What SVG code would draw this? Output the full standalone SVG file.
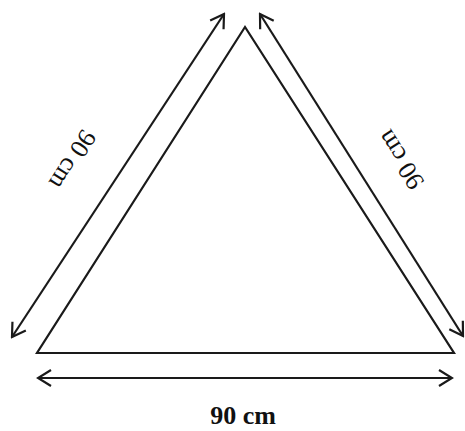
<svg xmlns="http://www.w3.org/2000/svg" width="465" height="431" viewBox="0 0 465 431">
<style>
.line{fill:none;stroke:#1a1a1a;stroke-width:2.2}
.dim{fill:none;stroke:#1a1a1a;stroke-width:2.2}
.lbl{font-family:"Liberation Serif","Times New Roman",serif;font-size:26px;fill:#111;text-anchor:middle}
</style>
<defs>
<marker id="arr" viewBox="-16 -10 18 20" markerWidth="18" markerHeight="20" refX="0" refY="0" orient="auto-start-reverse" markerUnits="userSpaceOnUse">
<path d="M -13 -8 L 0 0 L -13 8" fill="none" stroke="#1a1a1a" stroke-width="2.2"/>
</marker>
</defs>
<rect width="465" height="431" fill="#fff"/>
<g id="triangle">
<polygon class="line" points="245,27 37,353 454,353"/>
</g>
<g id="connectors">
<line class="dim" x1="12" y1="337" x2="224" y2="14" marker-start="url(#arr)" marker-end="url(#arr)"/>
<line class="dim" x1="260" y1="14" x2="463" y2="336" marker-start="url(#arr)" marker-end="url(#arr)"/>
<line class="dim" x1="38" y1="378" x2="452" y2="378" marker-start="url(#arr)" marker-end="url(#arr)"/>
</g>
<g id="label-left">
<text class="lbl" transform="translate(73,160) rotate(122.5)" dy="9">90 cm</text>
</g>
<g id="label-right">
<text class="lbl" transform="translate(400,160) rotate(-122.6)" dy="9">90 cm</text>
</g>
<g id="label-bottom">
<text class="lbl" x="243" y="424" font-size="26" font-weight="bold">90 cm</text>
</g>
</svg>
